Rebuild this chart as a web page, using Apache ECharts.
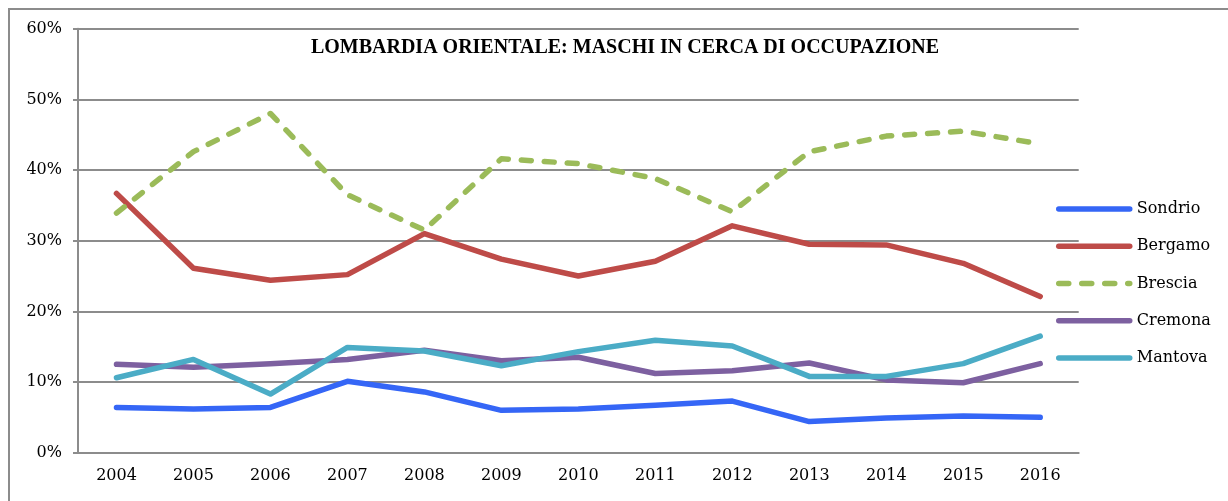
<!DOCTYPE html>
<html>
<head>
<meta charset="utf-8">
<script src="https://cdn.jsdelivr.net/npm/echarts@6/dist/echarts.min.js"></script>
<style>
  html, body { margin: 0; padding: 0; background: #fff; }
  #chart { width: 1228px; height: 501px; }
</style>
</head>
<body>
<div id="chart"></div>
<script>
// anni
var years = ['2004', '2005', '2006', '2007', '2008', '2009', '2010', '2011', '2012', '2013', '2014', '2015', '2016'];
// valori in %
var sondrio = [6.4, 6.2, 6.4, 10.1, 8.6, 6.0, 6.2, 6.7, 7.3, 4.4, 4.9, 5.2, 5.0];
var bergamo = [36.7, 26.1, 24.4, 25.2, 31.0, 27.4, 25.0, 27.1, 32.1, 29.5, 29.4, 26.8, 22.1];
var brescia = [33.9, 42.6, 48.0, 36.5, 31.5, 41.6, 40.9, 38.8, 34.1, 42.6, 44.8, 45.5, 43.7];
var cremona = [12.5, 12.1, 12.6, 13.2, 14.5, 13.0, 13.5, 11.2, 11.6, 12.7, 10.3, 9.9, 12.6];
var mantova = [10.6, 13.2, 8.3, 14.9, 14.4, 12.3, 14.3, 15.9, 15.1, 10.8, 10.8, 12.6, 16.5];
var yTicks = [0, 60, 10]; // min, max, passo

var font = 'DejaVu Serif';
var grigio = '#8c8c8c';

function serie(nome, dati, colore, tipo) {
    return {
        name: nome,
        type: 'line',
        data: dati,
        symbol: 'none',
        smooth: false,
        lineStyle: {
            color: colore,
            width: 5.5,
            type: tipo || 'solid',
            cap: 'round',
            join: 'round'
        },
        itemStyle: { color: colore }
    };
}

var myChart = echarts.init(document.getElementById('chart'));
myChart.setOption({
    animation: false,
    graphic: [{
        type: 'rect',
        shape: { x: 9, y: 9, width: 1400, height: 700 },
        style: { fill: 'none', stroke: grigio, lineWidth: 2 },
        silent: true
    }],
    title: {
        text: 'LOMBARDIA ORIENTALE: MASCHI IN CERCA DI OCCUPAZIONE',
        left: 620,
        textAlign: 'center',
        top: 33,
        textStyle: { fontFamily: 'Liberation Serif', fontWeight: 'bold', fontSize: 20, color: '#000' }
    },
    legend: {
        orient: 'vertical',
        left: 1051,
        top: 196,
        itemWidth: 71,
        itemHeight: 14,
        itemGap: 21.25,
        itemStyle: { opacity: 0 },
        lineStyle: { width: 5.5, cap: 'round' },
        textStyle: { fontFamily: font, fontSize: 16, color: '#000', padding: [0, 0, 0, 2] },
        data: ['Sondrio', 'Bergamo', 'Brescia', 'Cremona', 'Mantova']
    },
    grid: { left: 78, top: 28.7, right: 149.3, bottom: 48.3 },
    xAxis: {
        type: 'category',
        data: years,
        boundaryGap: true,
        axisLine: { lineStyle: { color: grigio, width: 2 } },
        axisTick: { length: 5, lineStyle: { color: grigio, width: 2 } },
        axisLabel: { fontFamily: font, fontSize: 16, color: '#000', margin: 15 }
    },
    yAxis: {
        type: 'value',
        min: yTicks[0],
        max: yTicks[1],
        interval: yTicks[2],
        axisLine: { show: true, lineStyle: { color: grigio, width: 2 } },
        axisTick: { show: true, length: 5, lineStyle: { color: grigio, width: 2 } },
        splitLine: { lineStyle: { color: grigio, width: 2 } },
        axisLabel: { formatter: '{value}%', fontFamily: font, fontSize: 16, color: '#000', margin: 16 }
    },
    series: [
        serie('Sondrio', sondrio, '#3566f6'),
        serie('Bergamo', bergamo, '#be4b48'),
        serie('Brescia', brescia, '#9bbb59', [10, 13]),
        serie('Cremona', cremona, '#7d60a0'),
        serie('Mantova', mantova, '#4bacc6')
    ]
});
</script>
</body>
</html>
